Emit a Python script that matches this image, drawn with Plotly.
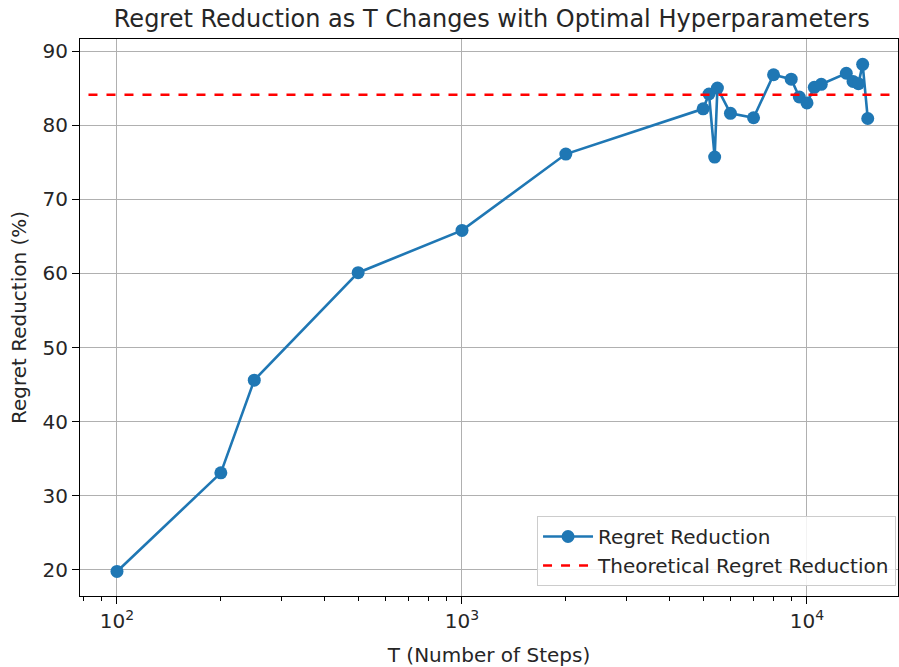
import plotly.graph_objects as go

T_steps = [100, 200, 250, 500, 1000, 2000, 5000, 5200, 5400, 5500, 6000, 7000,
           8000, 9000, 9500, 10000, 10500, 11000, 13000, 13600, 14100, 14500, 15000]
regret_reduction = [19.8, 33.1, 45.6, 60.1, 65.8, 76.1, 82.2, 84.2, 75.7, 85.0, 81.6, 81.0,
                    86.8, 86.2, 83.8, 83.0, 85.1, 85.5, 87.0, 85.9, 85.6, 88.2, 80.9]
theoretical = 84.1
x_tick_vals = [100, 1000, 10000]
x_tick_text = ["10<sup>2</sup>", "10<sup>3</sup>", "10<sup>4</sup>"]
y_tick_vals = [20, 30, 40, 50, 60, 70, 80, 90]

FONT = "DejaVu Sans"
BLUE = "#1f77b4"
TXT = "#262626"

fig = go.Figure()
fig.add_trace(go.Scatter(
    x=T_steps, y=regret_reduction, mode="lines+markers", name="Regret Reduction",
    line=dict(color=BLUE, width=2.6), marker=dict(color=BLUE, size=13)))
fig.add_trace(go.Scatter(
    x=[10 ** 1.5, 10 ** 4.6], y=[theoretical, theoretical], mode="lines",
    name="Theoretical Regret Reduction",
    line=dict(color="red", width=2.6, dash="dash")))

axis_common = dict(showline=True, linecolor="black", linewidth=1.2, mirror=True,
                   showgrid=True, gridcolor="#b0b0b0", gridwidth=1.4,
                   ticks="outside", ticklen=7, tickwidth=1.2, tickcolor="black",
                   zeroline=False, tickfont=dict(family=FONT, size=20, color=TXT))

fig.update_layout(
    width=899, height=667,
    margin=dict(l=80, r=1, t=39, b=71, autoexpand=False),
    paper_bgcolor="white", plot_bgcolor="white",
    font=dict(family=FONT, size=20, color=TXT),
    title=dict(text="Regret Reduction as T Changes with Optimal Hyperparameters",
               x=0.547, xanchor="center", y=0.985, yanchor="top",
               font=dict(family=FONT, size=24, color=TXT)),
    xaxis=dict(type="log", range=[1.8928, 4.2638], tickvals=x_tick_vals, ticktext=x_tick_text,
               title=dict(text="T (Number of Steps)", standoff=16,
                          font=dict(family=FONT, size=20, color=TXT)),
               minor=dict(ticks="outside", ticklen=4, tickwidth=1, tickcolor="black",
                          dtick="D1", showgrid=False),
               **axis_common),
    yaxis=dict(range=[16.49, 91.62], tickvals=y_tick_vals,
               title=dict(text="Regret Reduction (%)", standoff=10,
                          font=dict(family=FONT, size=20, color=TXT)),
               **axis_common),
    legend=dict(x=0.9976, y=0.018, xanchor="right", yanchor="bottom",
                bgcolor="rgba(255,255,255,0.85)", bordercolor="#cccccc", borderwidth=1,
                font=dict(family=FONT, size=20, color=TXT),
                itemwidth=50, tracegroupgap=2),
    showlegend=True,
)

fig.write_html("out.html", config={"displayModeBar": False},
               post_script="document.body.style.margin='0';document.body.style.padding='0';")
